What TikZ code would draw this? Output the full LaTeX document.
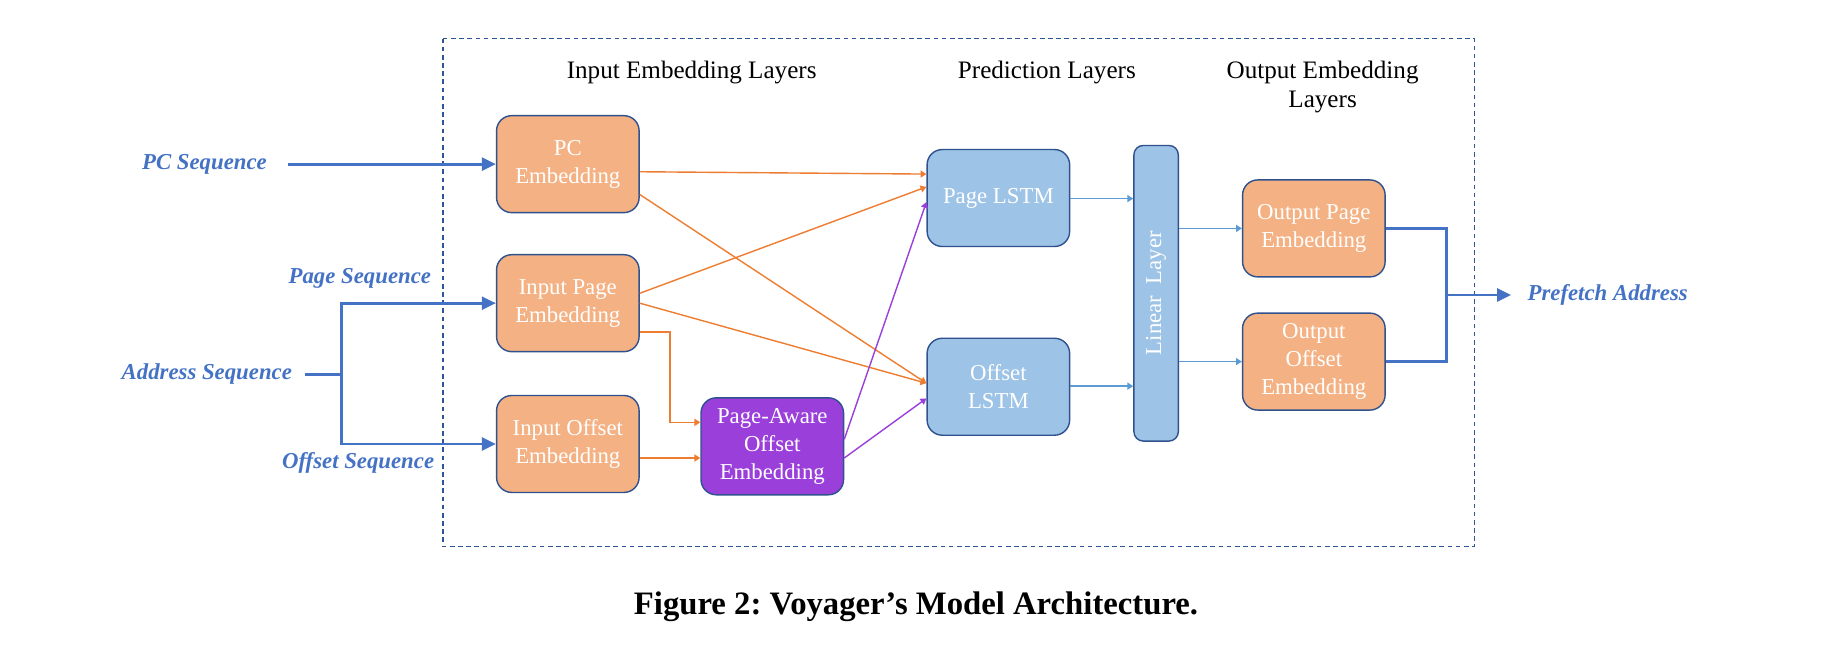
\documentclass[tikz,border=0pt]{standalone}
\usepackage{fontspec}
\setmainfont{Liberation Serif}
\usepackage{graphicx}
\usetikzlibrary{positioning,calc,arrows.meta}
\definecolor{embfill}{HTML}{F4B183}
\definecolor{lstmfill}{HTML}{9DC3E6}
\definecolor{awarefill}{HTML}{9B3FDB}
\definecolor{boxline}{HTML}{2F528F}
\definecolor{orangeline}{HTML}{ED7D31}
\definecolor{purpleline}{HTML}{9B3FDB}
\definecolor{lightline}{HTML}{5B9BD5}
\definecolor{seqblue}{HTML}{4472C4}
\definecolor{frameblue}{HTML}{2F5597}
\frenchspacing

\begin{document}
\begin{tikzpicture}[x=0.5pt,y=-0.5pt,>={Triangle[length=2.5pt,width=3pt]},
    box/.style={rounded corners=6.5pt,draw=boxline,line width=0.6pt,text=white,align=center,minimum width=61pt,minimum height=41.5pt,inner sep=1pt,font=\fontsize{9.75}{12}\selectfont},
    emb node/.style={box,fill=embfill},
    lstm node/.style={box,fill=lstmfill},
    aware node/.style={box,fill=awarefill},
    seq label/.style={text=seqblue,font=\fontsize{9.75}{12}\selectfont\bfseries\itshape},
    layer label/.style={align=center,font=\fontsize{10.75}{12.75}\selectfont},
    seq line/.style={draw=seqblue,line width=1.25pt},
    seq arrow/.style={seq line,-{Triangle[length=6pt,width=5.5pt]}},
    orange edge/.style={color=orangeline,line width=0.6pt,->},
    purple edge/.style={color=purpleline,line width=0.6pt,->},
    blue edge/.style={color=lightline,line width=0.6pt,->}]

    \fill[white] (0,0) rectangle (1568,560);
    \useasboundingbox (0,0) rectangle (1568,560);

    % dashed frame
    \draw[frameblue,line width=0.6pt,dash pattern=on 2pt off 1.5pt] (379,33) rectangle (1262,468);

    \node (15) [layer label] at (592,62) {Input Embedding Layers};
    \node (16) [layer label] at (896,62) {Prediction Layers};
    \node (17) [layer label] at (1132,74.5) {Output Embedding\\Layers};

    \node (1) [emb node] at (486,140.5) {PC\\Embedding};
    \node (2) [emb node] at ($(1)+(0,119)$) {Input Page\\Embedding};
    \node (3) [emb node] at ($(2)+(0,120.5)$) {Input Offset\\Embedding};

    \node (4) [aware node] at (661,382) {Page-Aware\\Offset\\Embedding};

    \node (5) [lstm node] at (854.5,169.5) {Page LSTM};
    \node (6) [lstm node] at ($(5)+(0,161.5)$) {Offset\\LSTM};

    \node (7) [box,fill=lstmfill,minimum width=19pt,minimum height=126.5pt,rounded corners=4pt] at (989.5,251) {\rotatebox{90}{Linear~~Layer}};

    \node (8) [emb node] at (1124.5,195.5) {Output Page\\Embedding};
    \node (9) [emb node] at ($(8)+(0,114)$) {Output\\Offset\\Embedding};

    \node (10) [seq label] at (1376,252.5) {Prefetch Address};
    \node (11) [seq label] at (175,140.5) {PC Sequence};
    \node (12) [seq label] at (308,238) {Page Sequence};
    \node (13) [seq label] at (177,320.5) {Address Sequence};
    \node (14) [seq label] at (306.5,396.5) {Offset Sequence};

    \node (18) at (784,519) {\fontsize{14}{16}\selectfont\bfseries Figure 2: Voyager’s Model Architecture.};

    % inputs
    \draw[seq arrow,shorten <=5.5pt] (11.east) -- (1.west);
    \coordinate (split) at (292,320.5);
    \draw[seq line,shorten <=2pt] (13.east) -- (split);
    \draw[seq arrow] (split) |- (2.west);
    \draw[seq arrow] (split) |- (3.west);

    \path[orange edge]
        ($(1.east)+(0,6.5)$) edge ($(5.west)+(0,-20.5)$)
        ($(1.east)+(0,26)$) edge ($(6.west)+(0,-3)$)
        ($(2.east)+(0,-8.5)$) edge ($(5.west)+(0,-9.5)$)
        (2.east) edge ($(6.west)+(0,-3)$)
        ($(3.east)+(0,12)$) edge ($(4.west)+(0,10)$)
    ;
    \draw[orange edge] ($(2.east)+(0,24.5)$) -- ++(26,0) |- ($(4.west)+(0,-20.5)$);

    \path[purple edge]
        ($(4.east)+(0,-6)$) edge ($(5.west)+(0,3.5)$)
        ($(4.east)+(0,10)$) edge ($(6.west)+(0,10)$)
    ;

    \path[blue edge]
        ($(5.east)+(0,0.5)$) edge ($(5.east -| 7.west)+(0,0.5)$)
        ($(6.east)+(0,-0.5)$) edge ($(6.east -| 7.west)+(0,-0.5)$)
        (7.east |- 8.west) edge (8.west)
        (7.east |- 9.west) edge (9.west)
    ;

    % outputs
    \coordinate (join) at (1238,252.5);
    \draw[seq line] (8.east) -| (join) |- (9.east);
    \draw[seq arrow,shorten >=3.5pt] (join) -- (10.west);
\end{tikzpicture}
\end{document}
